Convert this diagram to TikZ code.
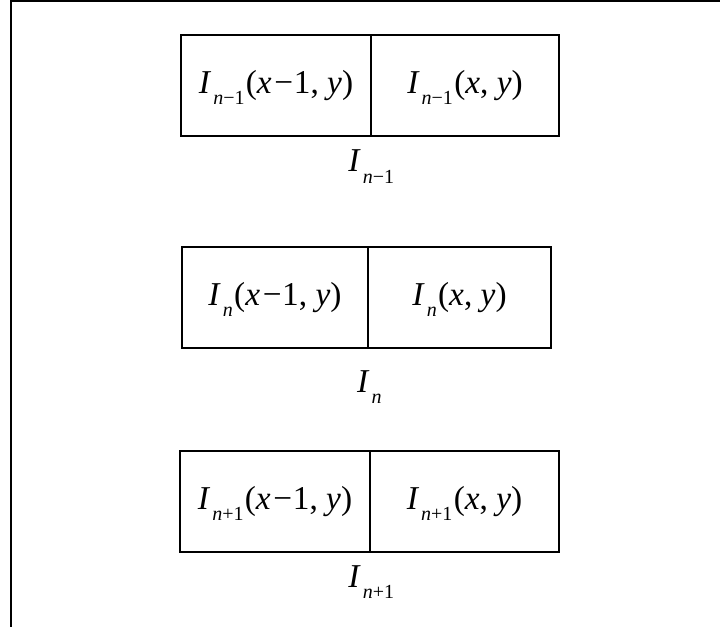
\documentclass[tikz,border=0pt]{standalone}
\usepackage{fontspec}
\setmainfont{Liberation Serif}
\newcommand{\Isub}[1]{\textit{I}\kern1.5pt\raisebox{-8.5pt}[0pt][0pt]{\fontsize{15}{15}\selectfont #1}\kern1pt}
\newcommand{\Mn}{\kern2pt−\kern0.5pt}
\begin{document}
\begin{tikzpicture}[x=0.75pt,y=-0.75pt,
  cell/.style={draw,line width=0.9pt,inner sep=0pt,minimum height=75.75pt,
    font=\fontsize{25}{29}\selectfont},
  outer/.style={draw,line width=1.3pt},
  lab/.style={inner sep=0pt,anchor=base,font=\fontsize{25}{29}\selectfont}]
\useasboundingbox (0,0) rectangle (720,627);
% frame
\coordinate (fb) at (11,627);
\coordinate (ftl) at (11,1);
\coordinate (ftr) at (720,1);
\draw[line width=1.6pt] (fb) -- (ftl) -- (ftr);
% row 1
\node[cell,minimum width=142.5pt] (l1) at (276,85.5) {\Isub{\textit{n}−1}(\textit{x}\Mn1, \textit{y})};
\node[cell,minimum width=141pt] (r1) at (465,85.5) {\Isub{\textit{n}−1}(\textit{x}, \textit{y})};
\draw[outer] (l1.north west) rectangle (r1.south east);
\node[lab] (t1) at (372,172) {\Isub{\textit{n}−1}};
% row 2
\node[cell,minimum width=139.5pt] (l2) at (275,297.5) {\Isub{\textit{n}}(\textit{x}\Mn1, \textit{y})};
\node[cell,minimum width=137.25pt] (r2) at (459.5,297.5) {\Isub{\textit{n}}(\textit{x}, \textit{y})};
\draw[outer] (l2.north west) rectangle (r2.south east);
\node[lab] (t2) at (370,392) {\Isub{\textit{n}}};
% row 3
\node[cell,minimum width=142.5pt] (l3) at (275,501.5) {\Isub{\textit{n}+1}(\textit{x}\Mn1, \textit{y})};
\node[cell,minimum width=141.75pt] (r3) at (464.5,501.5) {\Isub{\textit{n}+1}(\textit{x}, \textit{y})};
\draw[outer] (l3.north west) rectangle (r3.south east);
\node[lab] (t3) at (372,587) {\Isub{\textit{n}+1}};
\end{tikzpicture}
\end{document}
